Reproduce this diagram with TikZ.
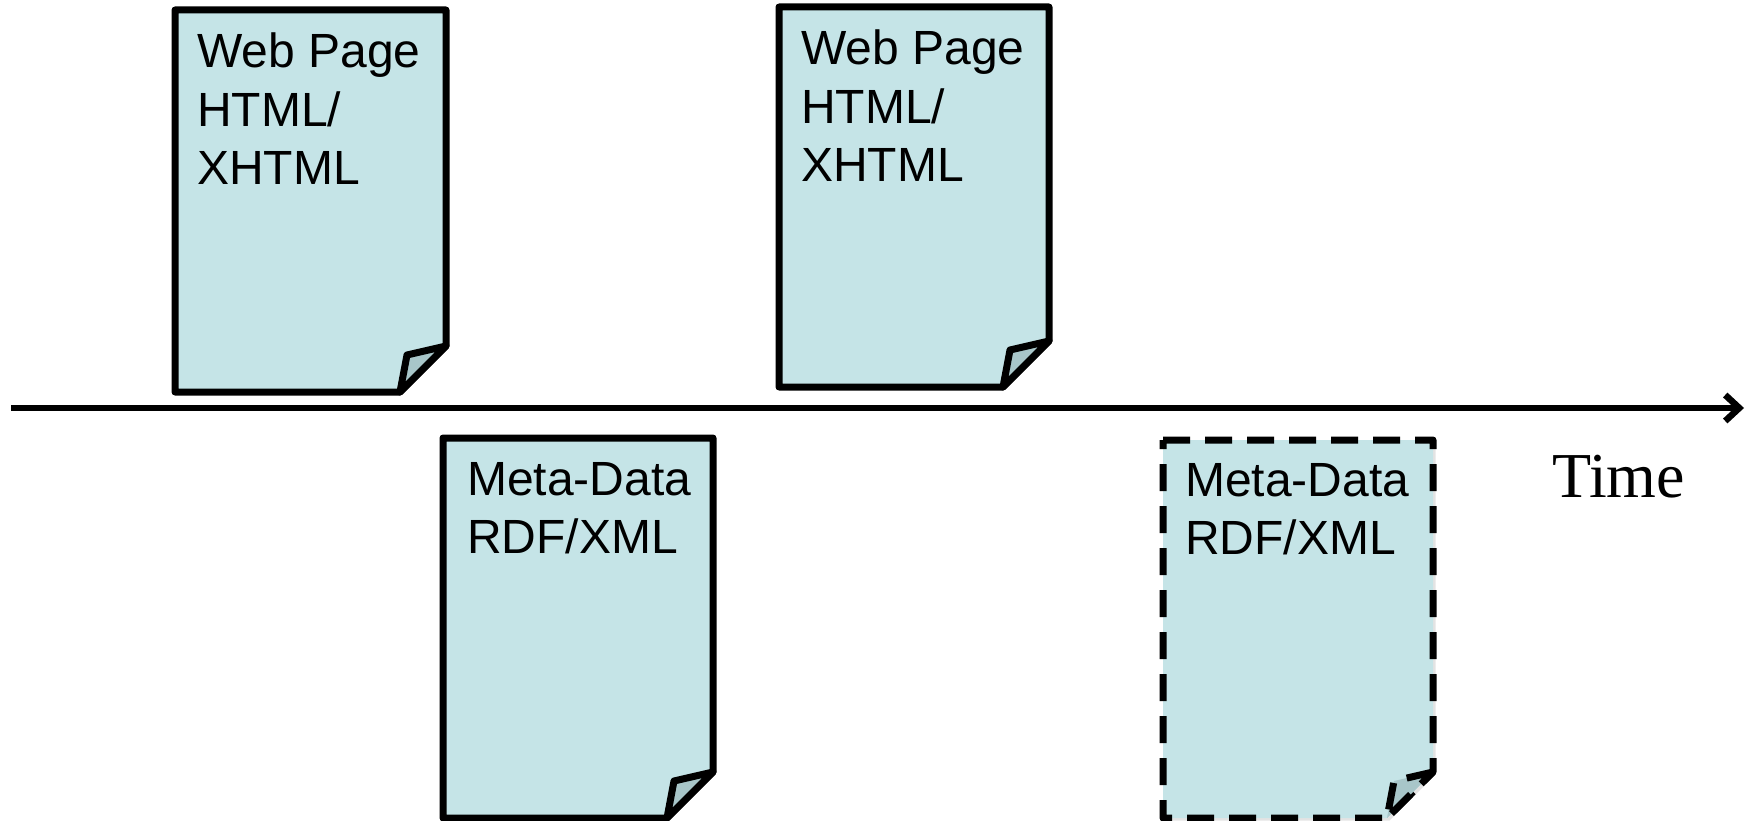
\documentclass[tikz,border=0pt]{standalone}
\usepackage{fontspec}
\setmainfont{Liberation Sans}
\newfontfamily\timesface{Liberation Serif}
\usetikzlibrary{arrows.meta,shadows}

\definecolor{paper}{RGB}{197,228,231}
\definecolor{curlfill}{RGB}{168,198,201}

\tikzset{
  sheet/.style={fill=paper, draw=black, line width=7pt, line join=round,
    drop shadow={opacity=0.22, shadow xshift=2.5pt, shadow yshift=-2.5pt}},
  curl/.style={fill=curlfill, draw=black, line width=7pt, line join=round},
  pending/.style={dash pattern=on 27pt off 15pt},
  doclabel/.style={anchor=north west, inner sep=0pt, align=left,
    font=\fontsize{48}{58.5}\selectfont},
  axis/.style={line width=6.5pt, -{Straight Barb[length=14pt,width=26pt]}},
}

% A sheet of paper with a turned-up bottom-right corner.
% #1 extra style, #2 left, #3 top, #4 right, #5 bottom (y grows downwards)
\newcommand\papersheet[5][]{%
  \path[sheet,#1] ({#2},{#3}) -- ({#4},{#3}) -- ({#4},{#5-46}) -- ({#4-46},{#5})
    -- ({#2},{#5}) -- cycle;
  \path[curl,#1] ({#4},{#5-46}) -- ({#4-39},{#5-37}) -- ({#4-46},{#5}) -- cycle;
}

\begin{document}
\begin{tikzpicture}[x=1pt, y=-1pt]
  \useasboundingbox (0,0) rectangle (1748,821);

  % documents above the time line: web pages
  \papersheet{175}{10}{446}{392}
  \papersheet{779}{7}{1049}{387}
  % documents below the time line: meta-data
  \papersheet{443}{438}{713}{818}
  \papersheet[pending]{1163}{440}{1433}{818}

  \node[doclabel] (web1) at (197,33) {Web Page\\HTML/\\XHTML};
  \node[doclabel] (web2) at (801,30) {Web Page\\HTML/\\XHTML};
  \node[doclabel] (meta1) at (467,462) {Meta-Data\\RDF/XML};
  \node[doclabel] (meta2) at (1185,463) {Meta-Data\\RDF/XML};

  % time line
  \coordinate (t0) at (11,408);
  \coordinate (t1) at (1744,408);
  \draw[axis] (t0) -- (t1);
  \node[anchor=base west, inner sep=0pt, font=\timesface\fontsize{64}{70}\selectfont]
    (time) at (1552,497) {Time};
\end{tikzpicture}
\end{document}
